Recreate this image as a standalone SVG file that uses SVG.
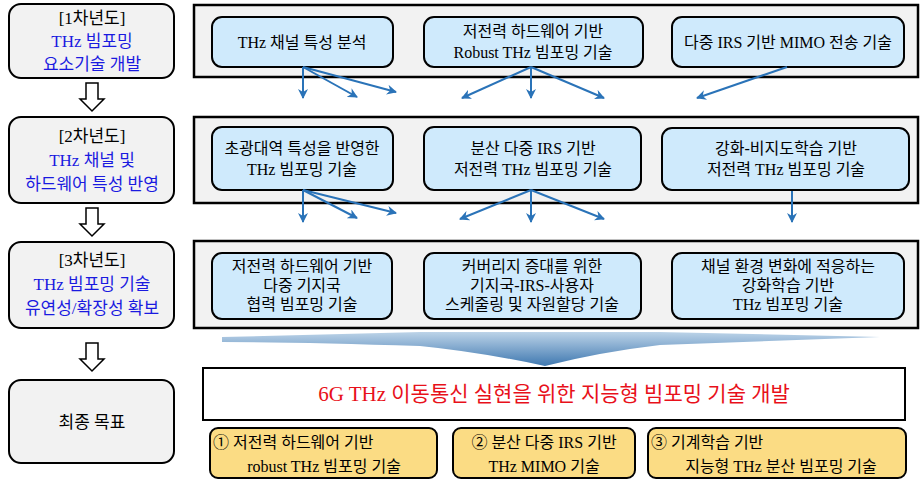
<svg xmlns="http://www.w3.org/2000/svg" width="923" height="488" viewBox="0 0 923 488">
<defs>
<style>
text{font-family:"Liberation Serif","Noto Sans CJK KR",serif;font-size:16px;fill:#000;text-anchor:middle}
.big{font-size:17px}
.lbox{fill:#f2f2f2;stroke:#000;stroke-width:2}
.panel{fill:#f2f2f2;stroke:#000;stroke-width:2.5}
.ibox{fill:#cfeafc;stroke:#000;stroke-width:2}
.ybox{fill:#fbdc84;stroke:#000;stroke-width:2}
.blue{fill:#1a1ae0}
.harrow{fill:#fff;stroke:#000;stroke-width:1.5}
.con line{stroke:#2a73b8;stroke-width:2;marker-end:url(#ah)}
</style>
<marker id="ah" viewBox="0 0 10 10" refX="9" refY="5" markerWidth="5" markerHeight="5" orient="auto"><path d="M0,0 L10,5 L0,10 L3,5 z" fill="#2a73b8"/></marker>
<linearGradient id="bg" x1="0" y1="0" x2="0" y2="1"><stop offset="0" stop-color="#bcd3e8"/><stop offset="1" stop-color="#3f78b0"/></linearGradient>
<path id="ha" d="M-6,0 H6 V16 H12 L0,28 L-12,16 H-6 Z"/>
</defs>
<path id="bigarrow" d="M222,337 L420,332 L660,332 L880,337 L660,345 Q600,352 545,366 Q480,352 420,346 Q300,342 222,342 Z" fill="url(#bg)"/>
<g id="year1"><rect class="lbox" x="9" y="4" width="165" height="74" rx="12"/><text class="big" x="92" y="24">[1차년도]</text><text class="blue big" x="92" y="47">THz 빔포밍</text><text class="blue big" x="92" y="70">요소기술 개발</text></g>
<g id="year2"><rect class="lbox" x="9" y="117" width="165" height="86" rx="12"/><text class="big" x="92" y="142">[2차년도]</text><text class="blue big" x="92" y="166">THz 채널 및</text><text class="blue big" x="92" y="190">하드웨어 특성 반영</text></g>
<g id="year3"><rect class="lbox" x="9" y="242" width="165" height="86" rx="12"/><text class="big" x="92" y="266">[3차년도]</text><text class="blue big" x="92" y="290">THz 빔포밍 기술</text><text class="blue big" x="92" y="314">유연성/확장성 확보</text></g>
<g id="final"><rect class="lbox" x="9" y="380" width="165" height="83" rx="12"/><text class="big" x="92" y="428">최종 목표</text></g>
<g id="steps"><use href="#ha" class="harrow" x="92" y="83"/><use href="#ha" class="harrow" x="92" y="208"/><use href="#ha" class="harrow" x="92" y="343"/></g>
<g id="panels"><rect class="panel" x="194" y="5" width="724" height="72"/><rect class="panel" x="194" y="117" width="724" height="86"/><rect class="panel" x="194" y="241" width="724" height="87"/></g>
<g id="n11"><rect class="ibox" x="212" y="17" width="181" height="50" rx="10"/><text x="302" y="48">THz 채널 특성 분석</text></g>
<g id="n12"><rect class="ibox" x="424" y="17" width="219" height="50" rx="10"/><text x="533" y="37">저전력 하드웨어 기반</text><text x="533" y="58">Robust THz 빔포밍 기술</text></g>
<g id="n13"><rect class="ibox" x="672" y="17" width="232" height="50" rx="10"/><text x="788" y="48">다중 IRS 기반 MIMO 전송 기술</text></g>
<g id="n21"><rect class="ibox" x="212" y="127" width="181" height="63" rx="10"/><text x="302" y="154">초광대역 특성을 반영한</text><text x="302" y="175">THz 빔포밍 기술</text></g>
<g id="n22"><rect class="ibox" x="424" y="127" width="217" height="63" rx="10"/><text x="533" y="154">분산 다중 IRS 기반</text><text x="533" y="175">저전력 THz 빔포밍 기술</text></g>
<g id="n23"><rect class="ibox" x="662" y="128" width="247" height="62" rx="10"/><text x="786" y="154">강화-비지도학습 기반</text><text x="786" y="175">저전력 THz 빔포밍 기술</text></g>
<g id="n31"><rect class="ibox" x="212" y="253" width="180" height="66" rx="10"/><text x="302" y="272">저전력 하드웨어 기반</text><text x="302" y="291">다중 기지국</text><text x="302" y="310">협력 빔포밍 기술</text></g>
<g id="n32"><rect class="ibox" x="424" y="253" width="217" height="66" rx="10"/><text x="532" y="272">커버리지 증대를 위한</text><text x="532" y="291">기지국-IRS-사용자</text><text x="532" y="310">스케줄링 및 자원할당 기술</text></g>
<g id="n33"><rect class="ibox" x="672" y="253" width="232" height="66" rx="10"/><text x="788" y="272">채널 환경 변화에 적응하는</text><text x="788" y="291">강화학습 기반</text><text x="788" y="310">THz 빔포밍 기술</text></g>
<g class="con" id="connectors">
<line x1="303" y1="67" x2="303" y2="98"/><line x1="303" y1="67" x2="357" y2="97"/><line x1="303" y1="67" x2="396" y2="92"/>
<line x1="531" y1="67" x2="462" y2="98"/><line x1="531" y1="67" x2="531" y2="98"/><line x1="531" y1="67" x2="604" y2="98"/>
<line x1="787" y1="67" x2="697" y2="98"/>
<line x1="303" y1="190" x2="303" y2="222"/><line x1="303" y1="190" x2="357" y2="218"/><line x1="303" y1="190" x2="396" y2="213"/>
<line x1="531" y1="190" x2="460" y2="219"/><line x1="531" y1="190" x2="531" y2="222"/><line x1="531" y1="190" x2="604" y2="219"/>
<line x1="792" y1="191" x2="792" y2="222"/>
</g>
<g id="goal"><rect x="203" y="368" width="702" height="52" fill="#fff" stroke="#000" stroke-width="2"/><text x="554" y="401" style="fill:#e8101a;font-size:21px">6G THz 이동통신 실현을 위한 지능형 빔포밍 기술 개발</text></g>
<g id="g1"><rect class="ybox" x="210" y="428" width="227" height="50" rx="8"/><text x="213" y="448" style="text-anchor:start">① 저전력 하드웨어 기반</text><text x="324" y="472">robust THz 빔포밍 기술</text></g>
<g id="g2"><rect class="ybox" x="453" y="428" width="182" height="50" rx="8"/><text x="544" y="448">② 분산 다중 IRS 기반</text><text x="544" y="472">THz MIMO 기술</text></g>
<g id="g3"><rect class="ybox" x="648" y="428" width="258" height="50" rx="8"/><text x="651" y="448" style="text-anchor:start">③ 기계학습 기반</text><text x="781" y="472">지능형 THz 분산 빔포밍 기술</text></g>
</svg>
